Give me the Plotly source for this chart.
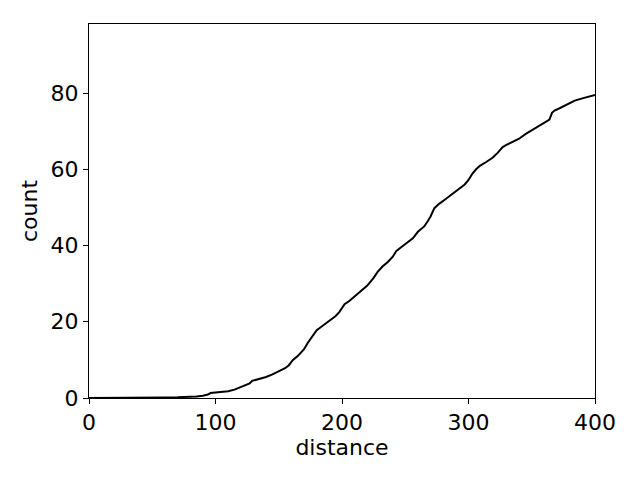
import plotly.graph_objects as go

# ==========================================================
# DATA
# ==========================================================

distance = [0, 20, 40, 50, 60, 70, 80, 85, 90, 94, 96, 100, 105, 110, 115, 120,
            125, 127, 129, 135, 140, 145, 150, 155, 158, 161, 165, 170, 173, 176,
            180, 185, 190, 195, 198, 202, 206, 210, 215, 220, 225, 228, 232, 236,
            240, 243, 247, 252, 256, 260, 265, 268, 270, 273, 277, 282, 287, 292,
            297, 300, 303, 306, 309, 314, 319, 323, 327, 330, 335, 340, 345, 350,
            355, 360, 364, 366, 368, 372, 376, 380, 384, 390, 395, 400]

count = [0.0, 0.0, 0.05, 0.1, 0.15, 0.2, 0.3, 0.4, 0.6, 0.9, 1.3, 1.4, 1.5, 1.8, 2.2, 2.8,
         3.6, 3.8, 4.5, 5.0, 5.5, 6.2, 7.0, 7.8, 8.6, 9.9, 11.0, 12.8, 14.5, 16.0,
         17.8, 19.0, 20.2, 21.5, 22.6, 24.6, 25.5, 26.6, 28.0, 29.5, 31.5, 33.0, 34.5, 35.6,
         37.0, 38.6, 39.6, 40.8, 41.9, 43.6, 45.0, 46.5, 47.6, 49.8, 51.0, 52.2, 53.4, 54.8,
         56.0, 57.2, 58.8, 60.0, 60.9, 61.9, 63.0, 64.3, 65.8, 66.4, 67.3, 68.0, 69.2, 70.2,
         71.2, 72.0, 73.0, 74.8, 75.4, 76.0, 76.6, 77.2, 78.0, 78.6, 79.0, 79.5]

# ==========================================================
# FIGURE
# ==========================================================

fig = go.Figure(
    go.Scatter(
        x=distance,
        y=count,
        mode="lines",
        line=dict(color="black", width=2),
        hoverinfo="skip"
    )
)

axis_style = dict(
    showline=True,
    linecolor="black",
    linewidth=1,
    mirror=True,
    ticks="outside",
    ticklen=5,
    tickwidth=1,
    tickcolor="black",
    showgrid=False,
    zeroline=False,
    tickfont=dict(size=22, color="black"),
    title_font=dict(size=22, color="black")
)

fig.update_xaxes(
    axis_style,
    range=[0, 400],
    tickvals=[0, 100, 200, 300, 400],
    title_text="distance",
    title_standoff=0
)

fig.update_yaxes(
    axis_style,
    range=[0, 98.1],
    tickvals=[0, 20, 40, 60, 80],
    title_text="count",
    title_standoff=6
)

# the page adds an 8px body margin, so the margins are shifted by it
fig.update_layout(
    width=640,
    height=480,
    paper_bgcolor="white",
    plot_bgcolor="white",
    font=dict(family="DejaVu Sans", color="black"),
    margin=dict(l=81, r=53, t=16, b=90),
    showlegend=False
)

fig.write_html("out.html")
